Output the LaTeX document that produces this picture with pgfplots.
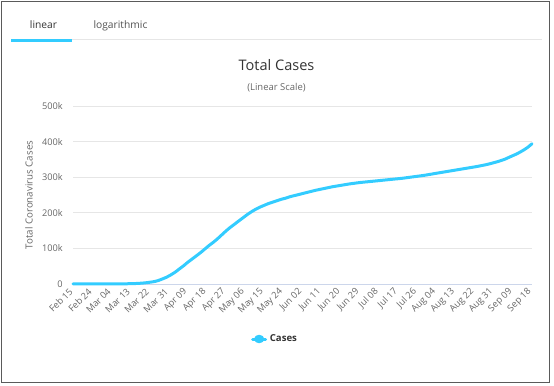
\documentclass[border=0pt]{standalone}
\usepackage{fontspec}
\setmainfont{Open Sans}
\usepackage{pgfplots}
\pgfplotsset{compat=1.18}
\usepackage{pgfplotstable}
\definecolor{linec}{HTML}{33CCFF}
\definecolor{gridc}{HTML}{E6E6E6}
\definecolor{basec}{HTML}{CCD6EB}
\definecolor{tickc}{HTML}{666666}
\definecolor{titlec}{HTML}{333333}
\definecolor{framec}{HTML}{5A5A5A}
\pgfplotstableread{
day cases
0 9
5 9
10 13
15 40
20 200
25 600
30 1500
33 2700
35 4000
38 6500
40 9500
42 14000
44 19000
46 25500
48 33000
50 42000
52 51000
54 61000
56 70000
58 79000
60 88000
62 98000
64 108000
66 117000
68 127000
70 138000
72 149000
74 159000
76 168000
78 177000
80 186000
82 195000
84 203000
86 210000
88 216000
90 221000
92 226000
94 230000
96 234000
98 238000
100 241000
102 245000
106 251000
110 257000
114 263000
118 268000
122 273000
126 277000
130 281000
135 285000
140 288000
145 291000
150 294000
155 297000
160 301000
165 305000
170 310000
175 315000
180 320000
185 325000
190 330000
195 336000
200 344000
203 350000
206 358000
209 366000
212 376000
214 384000
216 394000
}\casesdata
\begin{document}
\begin{tikzpicture}
% frame and header in image pixel coordinates
\begin{scope}[x=0.75pt,y=-0.75pt,yshift=289.5pt]
  \draw[framec,line width=1.3pt] (1.5,1.5) rectangle (549.5,382.5);
  \fill[linec] (11,39.5) rectangle (72,42.5);
  \draw[gridc,line width=0.75pt] (72,40) -- (542,40);
  \node[anchor=base,inner sep=0pt,text=titlec,font=\fontsize{7.7}{9}\selectfont] at (43.5,29) {linear};
  \node[anchor=base,inner sep=0pt,text=titlec!85,font=\fontsize{7.7}{9}\selectfont] at (120.5,29) {logarithmic};
  \node[anchor=base,inner sep=0pt,text=titlec,font=\fontsize{10.9}{13}\selectfont] at (276.5,70.7) {Total Cases};
  \node[anchor=base,inner sep=0pt,text=tickc,font=\fontsize{7.1}{8.5}\selectfont] at (276.5,91) {(Linear Scale)};
\end{scope}
\begin{axis}[
  at={(54.75pt,76.5pt)}, anchor=south west,
  scale only axis, width=344.25pt, height=133.5pt,
  xmin=0, xmax=216, ymin=0, ymax=500000,
  axis lines*=left,
  y axis line style={draw=none},
  x axis line style={draw=basec,line width=0.75pt},
  major tick length=0pt,
  ymajorgrids, grid style={gridc,line width=0.75pt},
  scaled y ticks=false,
  ytick={0,100000,200000,300000,400000,500000},
  yticklabels={0,100k,200k,300k,400k,500k},
  xtick={0,9,...,216},
  xticklabels={Feb 15,Feb 24,Mar 04,Mar 13,Mar 22,Mar 31,Apr 09,Apr 18,Apr 27,May 06,May 15,May 24,Jun 02,Jun 11,Jun 20,Jun 29,Jul 08,Jul 17,Jul 26,Aug 04,Aug 13,Aug 22,Aug 31,Sep 09,Sep 18},
  yticklabel style={text=tickc,font=\fontsize{6.9}{8}\selectfont,inner sep=0pt,xshift=-7.5pt},
  xticklabel style={text=tickc,font=\fontsize{6.9}{8}\selectfont,inner sep=0pt,xshift=-1.5pt,yshift=-4.5pt,rotate=45,anchor=east},
  /pgf/number format/assume math mode=true,
  ylabel={Total Coronavirus Cases},
  every axis y label/.style={at={(axis description cs:0,0.5)},xshift=-33pt,rotate=90,anchor=center,text=tickc,font=\fontsize{7.3}{9}\selectfont},
  legend style={at={(axis description cs:0.441,-0.309)},anchor=center,draw=none,fill=none,font=\fontsize{7.2}{9}\selectfont\bfseries,text=titlec,inner sep=0pt},
  legend image code/.code={\draw[line width=2.25pt,linec] (0pt,0pt) -- (9.75pt,0pt); \fill[linec] (4.875pt,0pt) ellipse (2.6pt and 2pt);},
  clip=false
]
\addplot[linec,line width=2.25pt,line join=round,line cap=round,smooth,tension=0.3] table[x=day,y=cases] {\casesdata};
\addlegendentry{Cases}
\end{axis}
\pgfresetboundingbox
\path (0,0) rectangle (415.5pt,289.5pt);
\end{tikzpicture}
\end{document}
